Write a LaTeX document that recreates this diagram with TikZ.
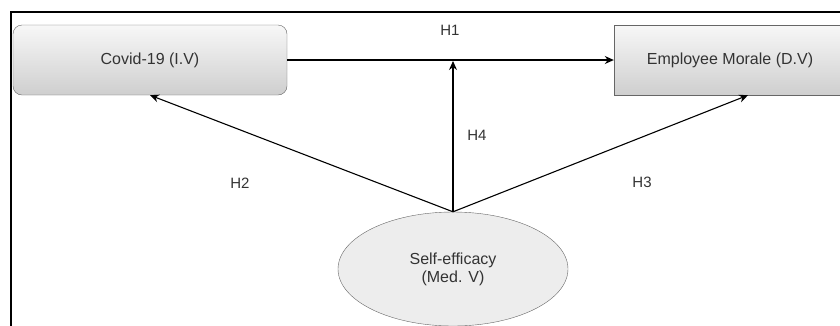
\documentclass[tikz,border=0pt]{standalone}
\usepackage{fontspec}
\setmainfont{Liberation Sans}
\usetikzlibrary{shapes.geometric,arrows.meta}

\begin{document}
\begin{tikzpicture}[x=1pt,y=-1pt,
    every node/.style={text=black!80,font=\fontsize{16}{18}\selectfont},
    var/.style={draw=black!60,top color=gray!6,bottom color=gray!38,
                minimum height=70pt,inner sep=0pt},
    hyp/.style={font=\fontsize{15}{16}\selectfont},
    link/.style={line width=1.1pt,-{Stealth[length=9pt,width=8pt]}}
   ]
    \useasboundingbox (0,0) rectangle (840,325);
    % open frame round the model
    \draw[line width=2.4pt] (11,340) -- (11,12) -- (850,12);

    \node[var,rounded corners=9pt,minimum width=274pt] (covid) at (150,60) {Covid-19 (I.V)};
    \node[var,minimum width=232pt] (morale) at (730,60) {Employee Morale (D.V)};
    \node[ellipse,draw=black!60,fill=gray!14,minimum width=230pt,minimum height=114pt,
          align=center,inner sep=0pt] (self) at (453,269) {Self-efficacy\\(Med. V)};

    \coordinate (junc) at (453,61);

    \draw[link] (covid.east) -- (morale.west);
    \draw[link] (self.north) -- (junc);
    \draw[link] (self.north) -- (covid.south);
    \draw[link] (self.north) -- ([xshift=18pt]morale.south);

    \node[hyp] (h1) at (450,30) {H1};
    \node[hyp] (h4) at (477,135) {H4};
    \node[hyp] (h2) at (240,183) {H2};
    \node[hyp] (h3) at (642,182) {H3};
\end{tikzpicture}
\end{document}
